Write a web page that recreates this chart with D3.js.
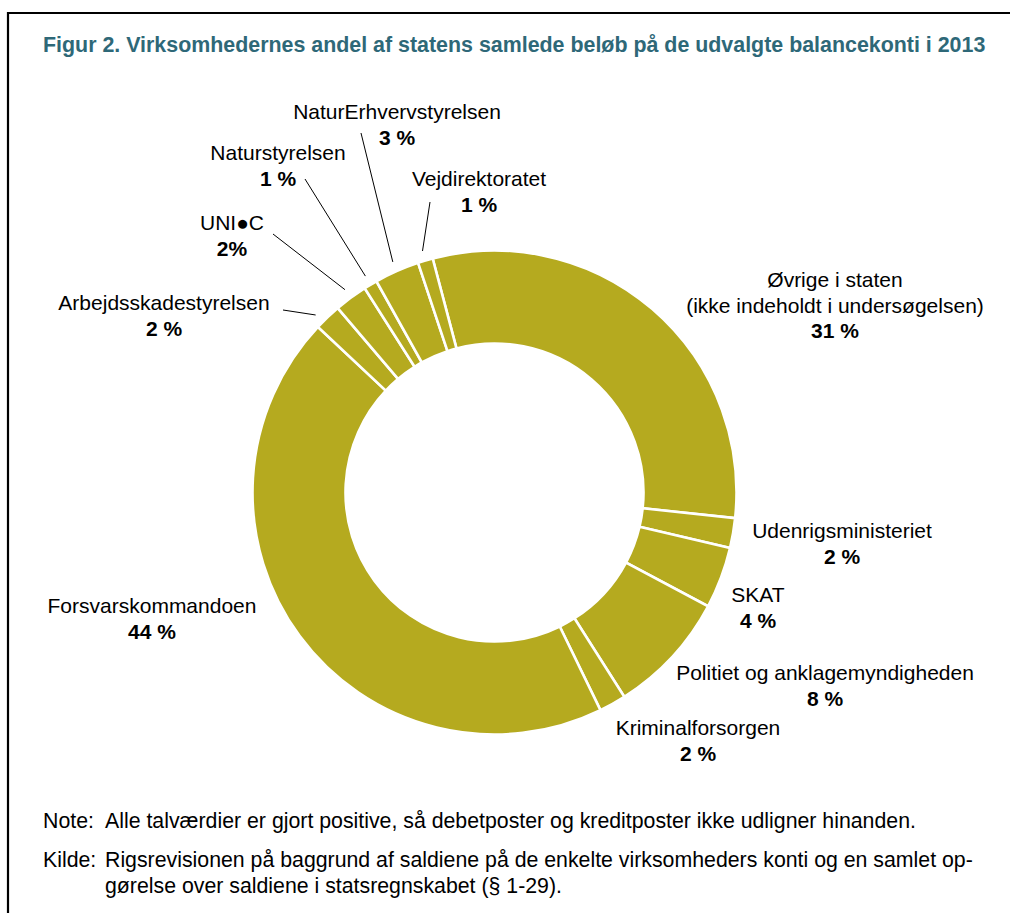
<!DOCTYPE html>
<html lang="da">
<head>
<meta charset="UTF-8">
<title>Figur 2</title>
<script src="https://d3js.org/d3.v7.min.js"></script>
<style>
  body { margin: 0; background: #fff; }
  svg { display: block; font-family: "Liberation Sans", Arial, sans-serif; }
</style>
</head>
<body>
<svg width="1010" height="913"></svg>
<script>
// data, clockwise from the top slice
const names = [
  ["Øvrige i staten", "(ikke indeholdt i undersøgelsen)"],
  ["Udenrigsministeriet"],
  ["SKAT"],
  ["Politiet og anklagemyndigheden"],
  ["Kriminalforsorgen"],
  ["Forsvarskommandoen"],
  ["Arbejdsskadestyrelsen"],
  ["UNI●C"],
  ["Naturstyrelsen"],
  ["NaturErhvervstyrelsen"],
  ["Vejdirektoratet"]
];
const shares = [30.8, 2.0, 4.1, 8.2, 1.8, 44.2, 1.8, 2.2, 0.9, 3.0, 1.0];
const pctLabels = ["31 %", "2 %", "4 %", "8 %", "2 %", "44 %", "2 %", "2%", "1 %", "3 %", "1 %"];

const title = "Figur 2. Virksomhedernes andel af statens samlede beløb på de udvalgte balancekonti i 2013";
const noteText = "Alle talværdier er gjort positive, så debetposter og kreditposter ikke udligner hinanden.";
const kildeText = ["Rigsrevisionen på baggrund af saldiene på de enkelte virksomheders konti og en samlet op-",
                   "gørelse over saldiene i statsregnskabet (§ 1-29)."];

// layout
const cx = 494.5, cy = 492.5, rOuter = 242, rInner = 149;
const startDeg = -14.8;
// label anchor (centre x, first baseline), leader start point, where along the slice it points
const labelPos = [
  {x: 835, y: 287},
  {x: 842, y: 538},
  {x: 758, y: 602},
  {x: 825, y: 680},
  {x: 698, y: 735},
  {x: 152, y: 613},
  {x: 164, y: 310, lead: [283, 310], frac: 0.25},
  {x: 232, y: 230, lead: [273, 234]},
  {x: 278, y: 160, lead: [305, 179]},
  {x: 397, y: 119, lead: [361, 133]},
  {x: 479, y: 186, lead: [430, 202]}
];
const lineH = 25.5;

const svg = d3.select("svg");

// frame
svg.append("path")
  .attr("d", "M8,913V13H1010")
  .attr("fill", "none")
  .attr("stroke", "#000")
  .attr("stroke-width", 2.2);

svg.append("text")
  .attr("x", 43).attr("y", 52)
  .attr("font-size", 21.4).attr("font-weight", "bold")
  .attr("fill", "#2e6878")
  .text(title);

const a0 = startDeg * Math.PI / 180;
const pie = d3.pie().sort(null).value(d => d).startAngle(a0).endAngle(a0 + 2 * Math.PI);
const arcs = pie(shares);
const arc = d3.arc().innerRadius(rInner).outerRadius(rOuter);

const g = svg.append("g").attr("transform", `translate(${cx},${cy})`);
g.selectAll("path.slice")
  .data(arcs)
  .enter().append("path")
  .attr("class", "slice")
  .attr("d", arc)
  .attr("fill", "#b5aa1f")
  .attr("stroke", "#fff")
  .attr("stroke-width", 2.6)
  .attr("stroke-linejoin", "miter");

// leader lines
arcs.forEach((d, i) => {
  const p = labelPos[i];
  if (!p.lead) return;
  const f = p.frac == null ? 0.5 : p.frac;
  const a = d.startAngle + (d.endAngle - d.startAngle) * f;
  const ex = cx + Math.sin(a) * (rOuter + 10);
  const ey = cy - Math.cos(a) * (rOuter + 10);
  svg.append("line")
    .attr("x1", p.lead[0]).attr("y1", p.lead[1])
    .attr("x2", ex).attr("y2", ey)
    .attr("stroke", "#000").attr("stroke-width", 1);
});

// labels
names.forEach((lines, i) => {
  const p = labelPos[i];
  const t = svg.append("text")
    .attr("text-anchor", "middle")
    .attr("font-size", 21)
    .attr("fill", "#000");
  lines.forEach((ln, j) => {
    t.append("tspan").attr("x", p.x).attr("y", p.y + j * lineH).text(ln);
  });
  t.append("tspan").attr("x", p.x).attr("y", p.y + lines.length * lineH)
    .attr("font-weight", "bold").text(pctLabels[i]);
});

// note and source
const foot = svg.append("g").attr("font-size", 21.3).attr("fill", "#000");
foot.append("text").attr("x", 43).attr("y", 828).text("Note:");
foot.append("text").attr("x", 105).attr("y", 828).text(noteText);
foot.append("text").attr("x", 43).attr("y", 867).text("Kilde:");
kildeText.forEach((ln, j) => {
  foot.append("text").attr("x", 105).attr("y", 867 + j * 26).text(ln);
});
</script>
</body>
</html>
